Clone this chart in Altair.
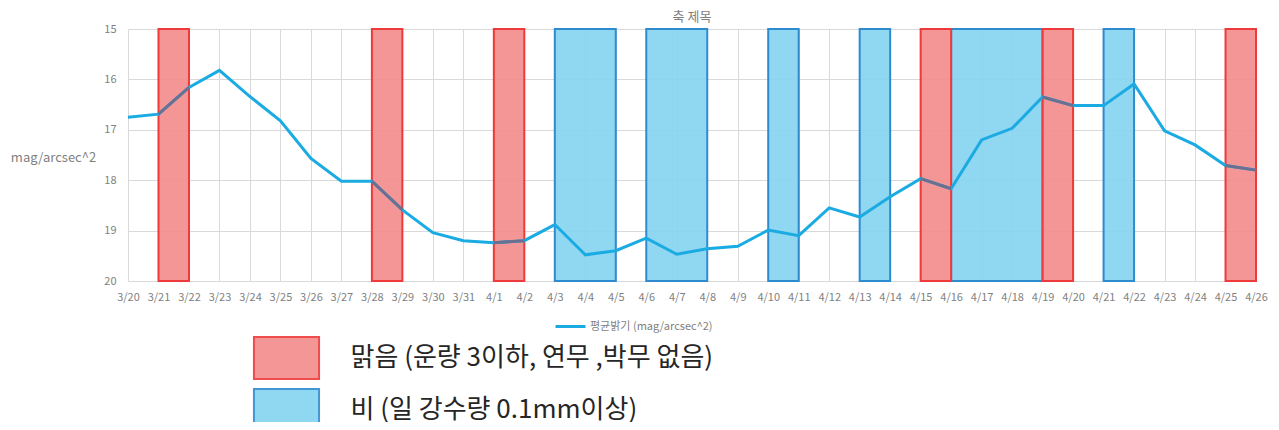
import altair as alt
import pandas as pd

# ---------------- data ----------------
YEAR = 2022
date_labels = ["3/20", "3/21", "3/22", "3/23", "3/24", "3/25", "3/26", "3/27", "3/28", "3/29",
               "3/30", "3/31", "4/1", "4/2", "4/3", "4/4", "4/5", "4/6", "4/7", "4/8",
               "4/9", "4/10", "4/11", "4/12", "4/13", "4/14", "4/15", "4/16", "4/17", "4/18",
               "4/19", "4/20", "4/21", "4/22", "4/23", "4/24", "4/25", "4/26"]
brightness = [16.75, 16.69, 16.16, 15.82, 16.34, 16.82, 17.57, 18.02, 18.02, 18.59,
              19.04, 19.20, 19.24, 19.20, 18.88, 19.48, 19.40, 19.15, 19.47, 19.36,
              19.31, 18.99, 19.10, 18.55, 18.73, 18.33, 17.97, 18.17, 17.20, 16.97,
              16.35, 16.52, 16.52, 16.09, 17.02, 17.30, 17.71, 17.80]

clear_start = ["3/21", "3/28", "4/1", "4/15", "4/19", "4/25"]
clear_end = ["3/22", "3/29", "4/2", "4/16", "4/20", "4/26"]
rain_start = ["4/3", "4/6", "4/10", "4/13", "4/16", "4/21"]
rain_end = ["4/5", "4/8", "4/11", "4/14", "4/19", "4/22"]

SERIES = "평균밝기 (mag/arcsec^2)"
CLEAR = "맑음 (운량 3이하, 연무 ,박무 없음)"
RAIN = "비 (일 강수량 0.1mm이상)"
TITLE = "축 제목"
Y_TITLE = "mag/arcsec^2"
y_ticks = [15, 16, 17, 18, 19, 20]


def iso(md):
    m, d = md.split("/")
    return f"{YEAR}-{int(m):02d}-{int(d):02d}"


line_df = pd.DataFrame({"date": [iso(d) for d in date_labels],
                        "value": brightness,
                        "series": SERIES})

rect_rows = []
for s, e in zip(rain_start, rain_end):
    rect_rows.append({"start": iso(s), "end": iso(e), "type": RAIN})
for s, e in zip(clear_start, clear_end):
    rect_rows.append({"start": iso(s), "end": iso(e), "type": CLEAR})
rect_df = pd.DataFrame(rect_rows)

# line segments seen through the red boxes (darker)
lookup = dict(zip(date_labels, brightness))
seg_rows = []
for i, (s, e) in enumerate(zip(clear_start, clear_end)):
    seg_rows.append({"date": iso(s), "value": lookup[s], "seg": i})
    seg_rows.append({"date": iso(e), "value": lookup[e], "seg": i})
seg_df = pd.DataFrame(seg_rows)

# ---------------- styles ----------------
FONT = "Noto Sans CJK KR"
GRAY = "#7f7f7f"
GRID = "#d9d9d9"

xscale = alt.Scale(type="utc", nice=False)
yscale = alt.Scale(domain=[15, 20], reverse=True, nice=False, zero=False)

xaxis = alt.Axis(format="%-m/%-d", tickCount={"interval": "day", "step": 1},
                 labelOverlap=False, labelFlush=False, labelFontSize=11,
                 labelColor=GRAY, labelPadding=10, domain=False, ticks=False,
                 grid=True, gridColor=GRID, labelFont=FONT, title=None)
yaxis = alt.Axis(values=y_ticks, labelFontSize=11, labelColor=GRAY, labelPadding=12,
                 domain=False, ticks=False, grid=True, gridColor=GRID, labelFont=FONT,
                 title=Y_TITLE, titleAngle=0, titleX=-75, titleY=128,
                 titleAlign="center", titleBaseline="middle", titleFontSize=13,
                 titleColor=GRAY, titleFontWeight="normal", titleFont=FONT)

rect_legend = alt.Legend(title=None, orient="none", legendX=136.5, legendY=307,
                         symbolType="M-1.55,-1L1.55,-1L1.55,1L-1.55,1Z",
                         symbolSize=1764, symbolStrokeWidth=2, symbolOpacity=0.9,
                         labelFontSize=26, labelColor="#262626", labelFont=FONT,
                         labelOffset=42, labelLimit=600, rowPadding=2, padding=0)

line_legend = alt.Legend(title=None, orient="none", legendX=426, legendY=281,
                         symbolType="stroke", symbolSize=900, symbolStrokeWidth=3,
                         labelFontSize=11, labelColor=GRAY, labelFont=FONT,
                         labelOffset=3, labelLimit=400, padding=0)

rects = alt.Chart(rect_df).mark_rect(strokeWidth=2, fillOpacity=0.9).encode(
    x=alt.X("start:T", scale=xscale, axis=xaxis),
    x2="end:T",
    y=alt.Y(datum=15, scale=yscale, axis=yaxis),
    y2=alt.Y2(datum=20),
    fill=alt.Fill("type:N", scale=alt.Scale(domain=[CLEAR, RAIN], range=["#f38b8b", "#84d3f0"]),
                  legend=rect_legend),
    stroke=alt.Stroke("type:N", scale=alt.Scale(domain=[CLEAR, RAIN], range=["#ee3a3a", "#2f8bd0"]),
                      legend=rect_legend),
)

line = alt.Chart(line_df).mark_line(strokeWidth=3).encode(
    x=alt.X("date:T", scale=xscale, axis=xaxis),
    y=alt.Y("value:Q", scale=yscale, axis=yaxis),
    color=alt.Color("series:N", scale=alt.Scale(domain=[SERIES], range=["#1babe3"]),
                    legend=line_legend),
)

dark = alt.Chart(seg_df).mark_line(strokeWidth=3, color="#6b7090").encode(
    x=alt.X("date:T", scale=xscale, axis=xaxis),
    y=alt.Y("value:Q", scale=yscale, axis=yaxis),
    detail="seg:N",
)

chart = alt.layer(rects, line, dark).properties(
    width=1128,
    height=252,
    autosize=alt.AutoSizeParams(type="none"),
    padding={"left": 120, "top": 21, "right": 15, "bottom": 141},
    title=alt.TitleParams(TITLE, fontSize=13, color=GRAY, fontWeight="normal",
                          offset=-1, anchor="middle", font=FONT),
).configure_view(stroke=None)

chart.save("out.html", embed_options={"renderer": "svg", "actions": False})
